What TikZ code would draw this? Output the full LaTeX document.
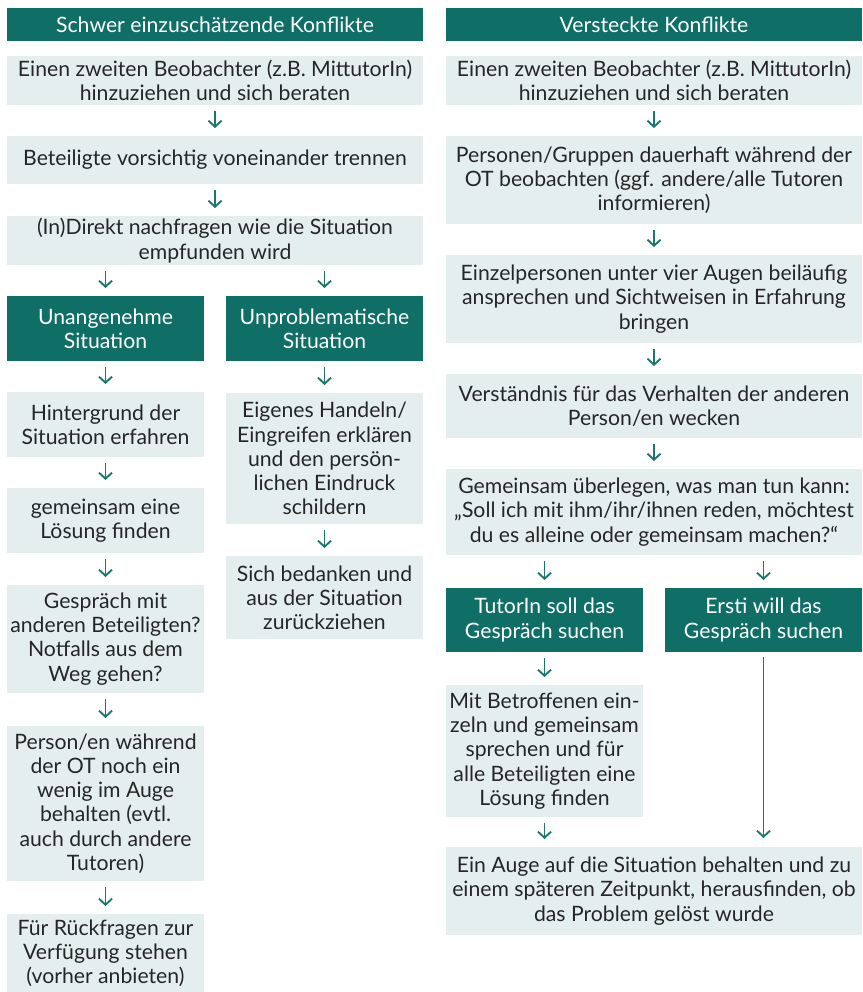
\documentclass[tikz,border=0pt]{standalone}
\usepackage{fontspec}
\setmainfont{Lato}
\usetikzlibrary{arrows.meta}
\definecolor{teal1}{HTML}{0F6F67}
\definecolor{lightbox}{HTML}{E4EEEE}
\definecolor{txt}{HTML}{262626}
\definecolor{arrowc}{HTML}{1A776D}
\tikzset{
  base/.style={inner sep=0pt, outer sep=0pt, align=center, font=\fontsize{21.2}{24.2}\selectfont},
  lbox/.style={base, fill=lightbox, text=txt},
  dbox/.style={base, fill=teal1, text=white},
  wide/.style={minimum width=416pt},
  half/.style={minimum width=197pt},
  arr/.style={draw=arrowc, line width=1.9pt, -{Straight Barb[length=6pt,width=13pt,line width=1.9pt]}, shorten <=6pt, shorten >=8pt},
}
\begin{document}
\begin{tikzpicture}[x=1pt,y=-1pt]
\useasboundingbox (0,0) rectangle (862,992);
% left column
\node[dbox,wide,minimum height=33pt] (hL) at (215,24.5) {Schwer einzuschätzende Konflikte};
\node[lbox,wide,minimum height=49pt] (L1) at (215,80.5) {Einen zweiten Beobachter (z.B. MittutorIn)\\hinzuziehen und sich beraten};
\node[lbox,wide,minimum height=48pt] (L2) at (215,160) {Beteiligte vorsichtig voneinander trennen};
\node[lbox,wide,minimum height=49pt] (L3) at (215,240.5) {(In)Direkt nachfragen wie die Situation\\empfunden wird};
\node[dbox,half,minimum height=65pt] (LA) at (105.5,328.5) {Unangenehme\\Situation};
\node[dbox,half,minimum height=65pt] (LB) at (324.5,328.5) {Unproblematische\\Situation};
\node[lbox,half,minimum height=65pt] (LA1) at (105.5,424.5) {Hintergrund der\\Situation erfahren};
\node[lbox,half,minimum height=65pt] (LA2) at (105.5,520.5) {gemeinsam eine\\Lösung finden};
\node[lbox,half,minimum height=108pt] (LA3) at (105.5,639) {Gespräch mit\\anderen Beteiligten?\\Notfalls aus dem\\Weg gehen?};
\node[lbox,half,minimum height=155pt] (LA4) at (105.5,803.5) {Person/en während\\der OT noch ein\\wenig im Auge\\behalten (evtl.\\auch durch andere\\Tutoren)};
\node[lbox,half,minimum height=78pt] (LA5) at (105.5,953) {Für Rückfragen zur\\Verfügung stehen\\(vorher anbieten)};
\node[lbox,half,minimum height=131pt] (LB1) at (324.5,458.5) {Eigenes Handeln/\\Eingreifen erklären\\und den persön-\\lichen Eindruck\\schildern};
\node[lbox,half,minimum height=83pt] (LB2) at (324.5,597.5) {Sich bedanken und\\aus der Situation\\zurückziehen};
% right column
\node[dbox,wide,minimum height=33pt] (hR) at (654,24.5) {Versteckte Konflikte};
\node[lbox,wide,minimum height=49pt] (R1) at (654,80.5) {Einen zweiten Beobachter (z.B. MittutorIn)\\hinzuziehen und sich beraten};
\node[lbox,wide,minimum height=88pt] (R2) at (654,180) {Personen/Gruppen dauerhaft während der\\OT beobachten (ggf. andere/alle Tutoren\\informieren)};
\node[lbox,wide,minimum height=88pt] (R3) at (654,299) {Einzelpersonen unter vier Augen beiläufig\\ansprechen und Sichtweisen in Erfahrung\\bringen};
\node[lbox,wide,minimum height=64pt] (R4) at (654,406) {Verständnis für das Verhalten der anderen\\Person/en wecken};
\node[lbox,wide,minimum height=86pt] (R5) at (654,512) {Gemeinsam überlegen, was man tun kann:\\„Soll ich mit ihm/ihr/ihnen reden, möchtest\\du es alleine oder gemeinsam machen?“};
\node[dbox,half,minimum height=64pt] (RA) at (544.5,620) {TutorIn soll das\\Gespräch suchen};
\node[dbox,half,minimum height=64pt] (RB) at (763.5,620) {Ersti will das\\Gespräch suchen};
\node[lbox,half,minimum height=132pt] (RA1) at (544.5,751) {Mit Betroffenen ein-\\zeln und gemeinsam\\sprechen und für\\alle Beteiligten eine\\Lösung finden};
\node[lbox,wide,minimum height=88pt] (RF) at (654,891) {Ein Auge auf die Situation behalten und zu\\einem späteren Zeitpunkt, herausfinden, ob\\das Problem gelöst wurde};
% connectors
\draw[arr] (L1) -- (L2);
\draw[arr] (L2) -- (L3);
\draw[arr] (LA.north |- L3.south) -- (LA.north);
\draw[arr] (LB.north |- L3.south) -- (LB.north);
\draw[arr] (LA) -- (LA1);
\draw[arr] (LA1) -- (LA2);
\draw[arr] (LA2) -- (LA3);
\draw[arr] (LA3) -- (LA4);
\draw[arr] (LA4) -- (LA5);
\draw[arr] (LB) -- (LB1);
\draw[arr] (LB1) -- (LB2);
\draw[arr] (R1) -- (R2);
\draw[arr] (R2) -- (R3);
\draw[arr] (R3) -- (R4);
\draw[arr] (R4) -- (R5);
\draw[arr] (RA.north |- R5.south) -- (RA.north);
\draw[arr] (RB.north |- R5.south) -- (RB.north);
\draw[arr] (RA) -- (RA1);
\draw[arr] (RA1.south) -- (RF.north -| RA1.south);
\draw[arr, shorten <=5pt, shorten >=9pt] (RB.south) -- (RF.north -| RB.south);
\end{tikzpicture}
\end{document}
